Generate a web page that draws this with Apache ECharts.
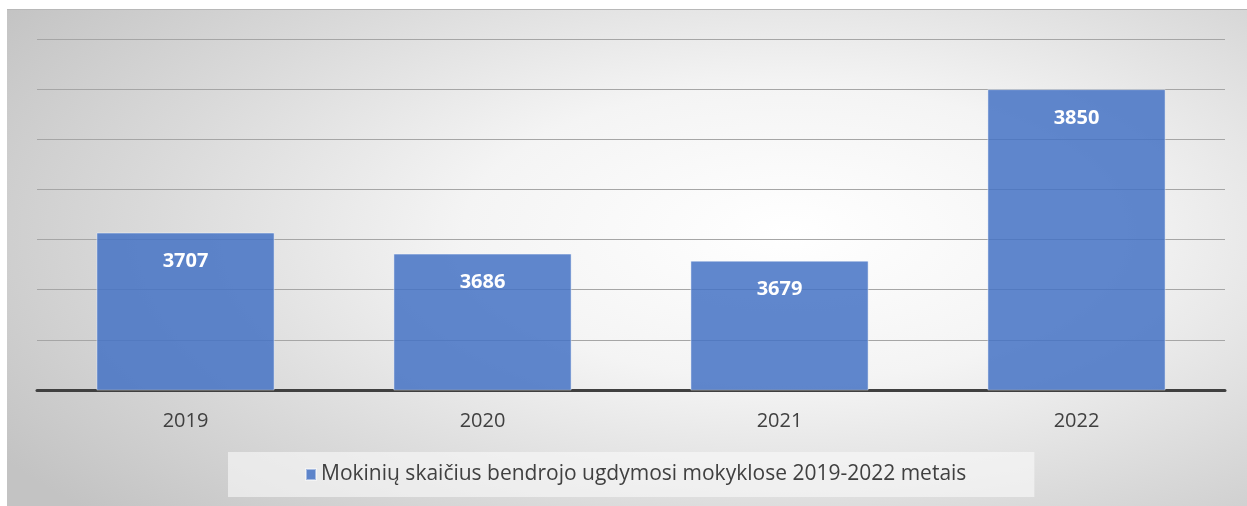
<!DOCTYPE html>
<html>
<head>
<meta charset="utf-8">
<script src="https://cdn.jsdelivr.net/npm/echarts@6/dist/echarts.min.js"></script>
<style>
  html, body { margin: 0; padding: 0; background: #fff; }
  #chart {
    position: absolute;
    left: 7px;
    top: 9px;
    width: 1240px;
    height: 497px;
    border-top: 1px solid #b8b8b8;
    box-sizing: border-box;
    background: radial-gradient(ellipse 75% 85% at 63% 45%, #ffffff 0%, #f4f4f4 35%, #d9d9d9 70%, #c3c3c3 100%);
  }
</style>
</head>
<body>
<div id="chart"></div>
<script>
const years = ['2019', '2020', '2021', '2022']
const students = [3707, 3686, 3679, 3850]
const seriesName = 'Mokinių skaičius bendrojo ugdymosi mokyklose 2019-2022 metais'

const chart = echarts.init(document.getElementById('chart'))

chart.setOption({
  textStyle: { fontFamily: '"Open Sans", Lato, sans-serif' },
  grid: { left: 30, right: 22, top: 29, bottom: 116 },
  legend: {
    bottom: 9,
    left: 221,
    itemWidth: 10,
    itemHeight: 11,
    itemGap: 4,
    padding: [12, 68, 12, 77],
    backgroundColor: 'rgba(250,250,250,0.6)',
    textStyle: { fontSize: 21, color: '#404040' },
    data: [{ name: seriesName, icon: 'rect' }]
  },
  xAxis: {
    type: 'category',
    data: years,
    axisLine: { lineStyle: { color: '#404040', width: 3 } },
    axisTick: { show: false },
    axisLabel: { fontSize: 20, color: '#404040', margin: 21 }
  },
  yAxis: {
    type: 'value',
    min: 3550,
    max: 3900,
    interval: 50,
    axisLabel: { show: false },
    axisLine: { show: false },
    axisTick: { show: false },
    splitLine: { lineStyle: { color: '#a6a6a6', width: 1 } }
  },
  series: [{
    name: seriesName,
    type: 'bar',
    data: students,
    barCategoryGap: '40%',
    itemStyle: {
      color: 'rgba(68,114,196,0.85)',
      borderColor: 'rgba(255,255,255,0.45)',
      borderWidth: 1
    },
    label: {
      show: true,
      position: 'insideTop',
      distance: 19,
      color: '#fff',
      fontSize: 20,
      fontWeight: 'bold'
    }
  }]
})

window.addEventListener('resize', () => chart.resize())
</script>
</body>
</html>
